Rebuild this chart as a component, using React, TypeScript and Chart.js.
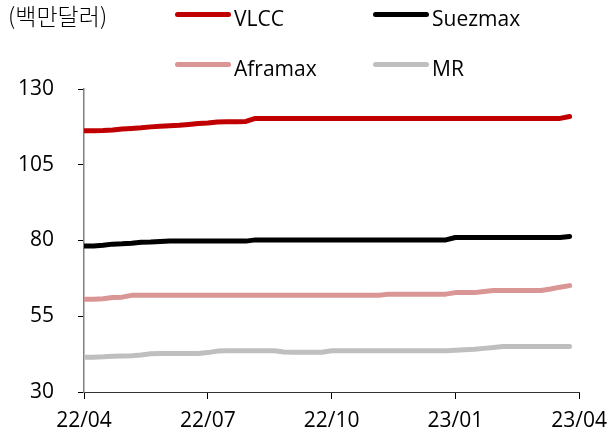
import React, { useEffect, useRef } from "react";
import { Chart, registerables } from "chart.js";

Chart.register(...registerables);

const xTickLabels = ["22/04", "22/07", "22/10", "23/01", "23/04"];
const weeksPerTick = 13;
const yTicks = [30, 55, 80, 105, 130];
const unitLabel = "(백만달러)";
const seriesNames = ["VLCC", "Suezmax", "Aframax", "MR"];
const seriesColors = ["#C00000", "#000000", "#D99694", "#BFBFBF"];

const vlcc = [
  116.2, 116.2, 116.3, 116.5, 116.8, 117.0, 117.2, 117.5, 117.7, 117.9,
  118.0, 118.3, 118.6, 118.8, 119.1, 119.2, 119.2, 119.3, 120.3, 120.3,
  120.3, 120.3, 120.3, 120.3, 120.3, 120.3, 120.3, 120.3, 120.3, 120.3,
  120.3, 120.3, 120.3, 120.3, 120.3, 120.3, 120.3, 120.3, 120.3, 120.3,
  120.3, 120.3, 120.3, 120.3, 120.3, 120.3, 120.3, 120.3, 120.3, 120.3,
  120.3, 120.9,
];
const suezmax = [
  78.2, 78.2, 78.4, 78.8, 78.9, 79.1, 79.4, 79.5, 79.7, 79.8,
  79.8, 79.8, 79.8, 79.8, 79.8, 79.8, 79.8, 79.8, 80.2, 80.2,
  80.2, 80.2, 80.2, 80.2, 80.2, 80.2, 80.2, 80.2, 80.2, 80.2,
  80.2, 80.2, 80.2, 80.2, 80.2, 80.2, 80.2, 80.2, 80.2, 81.0,
  81.0, 81.0, 81.0, 81.0, 81.0, 81.0, 81.0, 81.0, 81.0, 81.0,
  81.0, 81.3,
];
const aframax = [
  60.6, 60.6, 60.8, 61.2, 61.3, 61.9, 61.9, 61.9, 61.9, 61.9,
  61.9, 61.9, 61.9, 61.9, 61.9, 61.9, 61.9, 61.9, 61.9, 61.9,
  61.9, 61.9, 61.9, 61.9, 61.9, 61.9, 61.9, 61.9, 61.9, 61.9,
  61.9, 61.9, 62.3, 62.3, 62.3, 62.3, 62.3, 62.3, 62.3, 62.8,
  62.8, 62.8, 63.2, 63.5, 63.5, 63.5, 63.5, 63.5, 63.5, 64.0,
  64.6, 65.1,
];
const mr = [
  41.5, 41.5, 41.6, 41.8, 41.9, 42.0, 42.2, 42.6, 42.7, 42.7,
  42.7, 42.7, 42.7, 43.0, 43.5, 43.6, 43.6, 43.6, 43.6, 43.6,
  43.6, 43.2, 43.1, 43.1, 43.1, 43.1, 43.6, 43.6, 43.6, 43.6,
  43.6, 43.6, 43.6, 43.6, 43.6, 43.6, 43.6, 43.6, 43.6, 43.8,
  43.95, 44.1, 44.4, 44.7, 45.0, 45.0, 45.0, 45.0, 45.0, 45.0,
  45.0, 45.0,
];

const seriesValues = [vlcc, suezmax, aframax, mr];
const FONT = "'Open Sans', 'Noto Sans CJK KR', sans-serif";

export default function App() {
  const canvasRef = useRef<HTMLCanvasElement | null>(null);

  useEffect(() => {
    const canvas = canvasRef.current;
    if (!canvas) return;
    const chart = new Chart(canvas, {
      type: "line",
      data: {
        datasets: seriesNames.map((name, si) => ({
          label: name,
          data: seriesValues[si].map((v, i) => ({ x: i, y: v })),
          borderColor: seriesColors[si],
          backgroundColor: seriesColors[si],
          borderWidth: 5,
          pointRadius: 0,
          tension: 0,
          borderCapStyle: "round",
          borderJoinStyle: "round",
          fill: false,
        })),
      },
      options: {
        animation: false,
        responsive: false,
        devicePixelRatio: 1,
        layout: { padding: { top: 89, right: 36, left: 0, bottom: 0 } },
        plugins: {
          legend: { display: false },
          tooltip: { enabled: false },
          title: { display: false },
        },
        scales: {
          x: {
            type: "linear",
            min: 0,
            max: (xTickLabels.length - 1) * weeksPerTick,
            afterFit: (s: any) => {
              s.height = 51;
            },
            afterBuildTicks: (s: any) => {
              s.ticks = xTickLabels.map((_, i) => ({ value: i * weeksPerTick }));
            },
            ticks: {
              autoSkip: false,
              maxRotation: 0,
              padding: 9,
              color: "#000",
              font: { family: FONT, size: 21 },
              callback: (v: any) => xTickLabels[Math.round(Number(v) / weeksPerTick)] ?? "",
            },
            grid: {
              drawOnChartArea: false,
              drawTicks: true,
              tickLength: 7,
              color: "#000",
              lineWidth: 1,
            },
            border: { display: true, color: "#333", width: 1 },
          },
          y: {
            type: "linear",
            min: yTicks[0],
            max: yTicks[yTicks.length - 1],
            afterFit: (s: any) => {
              s.width = 84;
            },
            afterBuildTicks: (s: any) => {
              s.ticks = yTicks.map((v) => ({ value: v }));
            },
            ticks: {
              padding: 24,
              color: "#000",
              font: { family: FONT, size: 21 },
            },
            grid: {
              drawOnChartArea: false,
              drawTicks: true,
              tickLength: 6,
              color: "#000",
              lineWidth: 1,
            },
            border: { display: true, color: "#808080", width: 1.5 },
          },
        },
      },
    });
    return () => chart.destroy();
  }, []);

  const legendPos = [
    { left: 175, top: 14 },
    { left: 373, top: 14 },
    { left: 175, top: 64 },
    { left: 373, top: 64 },
  ];

  return (
    <div
      style={{
        position: "fixed",
        left: 0,
        top: 0,
        width: 616,
        height: 443,
        background: "#fff",
        fontFamily: FONT,
      }}
    >
      <canvas ref={canvasRef} width={616} height={443} style={{ display: "block" }} />
      <div
        style={{
          position: "absolute",
          left: 8,
          top: 1,
          fontSize: 23,
          lineHeight: "28px",
          color: "#000",
          fontFamily: "'Noto Sans CJK KR', 'Open Sans', sans-serif",
          fontWeight: 300,
          whiteSpace: "nowrap",
        }}
      >
        {unitLabel}
      </div>
      {seriesNames.map((name, i) => (
        <div key={name}>
          <div
            style={{
              position: "absolute",
              left: legendPos[i].left,
              top: legendPos[i].top - 2.5,
              width: 56,
              height: 5,
              borderRadius: 3,
              background: seriesColors[i],
            }}
          />
          <div
            style={{
              position: "absolute",
              left: legendPos[i].left + 59,
              top: legendPos[i].top - 10,
              fontSize: 21,
              lineHeight: "28px",
              color: "#000",
              whiteSpace: "nowrap",
            }}
          >
            {name}
          </div>
        </div>
      ))}
    </div>
  );
}
